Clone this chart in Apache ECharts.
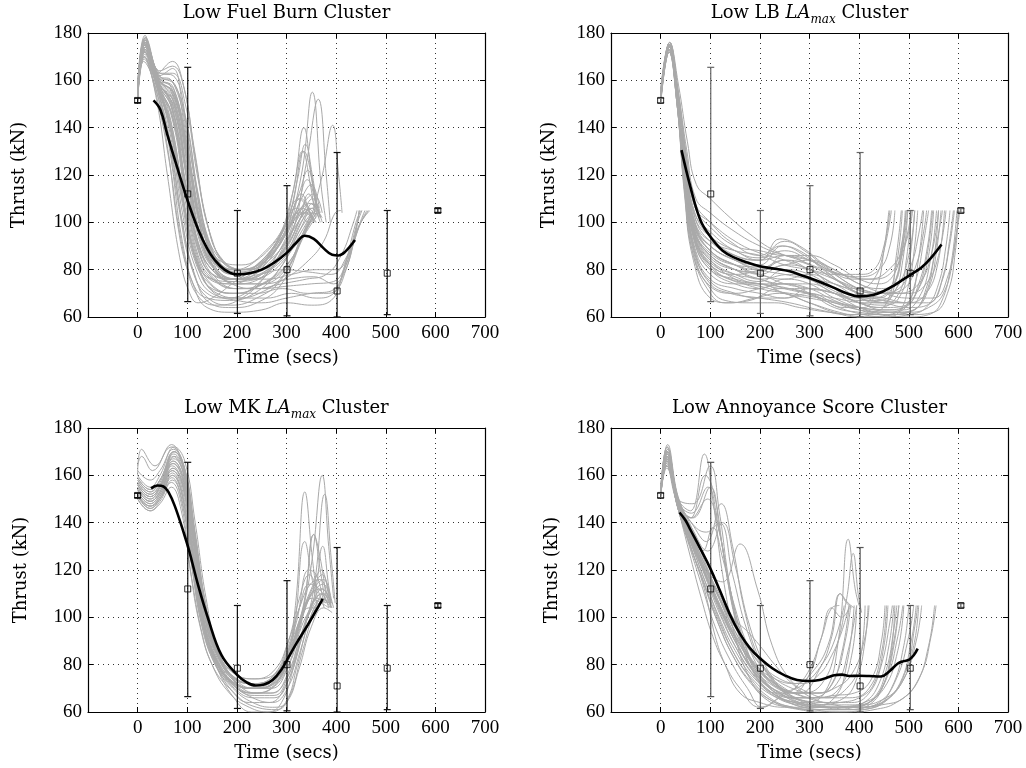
<!DOCTYPE html>
<html>
<head>
<meta charset="utf-8">
<script src="https://cdn.jsdelivr.net/npm/echarts@6/dist/echarts.min.js"></script>
<style>
html,body{margin:0;padding:0;background:#fff;}
#chart{width:1026px;height:768px;}
</style>
</head>
<body>
<div id="chart"></div>
<script>
// ---------- DATA ----------
const xTicks = [-100, 0, 100, 200, 300, 400, 500, 600, 700];
const yTicks = [60, 80, 100, 120, 140, 160, 180];

const titles = [
  '{n|Low Fuel Burn Cluster}',
  '{n|Low LB }{i|LA}{s|max}{n| Cluster}',
  '{n|Low MK }{i|LA}{s|max}{n| Cluster}',
  '{n|Low Annoyance Score Cluster}'
];

// reference statistics (error bars)
const errX    = [0, 101, 201, 301, 402, 503, 605];
const errMean = [151.5, 112, 78.5, 80, 71, 78.5, 105];
const errLow  = [150.6, 66.5, 61.5, 60.5, 60, 61, 104.2];
const errHigh = [152.4, 165.5, 105, 115.5, 129.5, 105, 105.8];

// mean curves (black)
const p1Mean = [[32,151.5],[46,147.5],[60,137],[80,123],[101,109],[122,97],[140,89],[155,84.2],[175,80],[200,78],[225,78.5],[250,80],[275,83],[300,87],[320,91.5],[337,94.3],[355,93],[375,89],[392,86.3],[405,86],[418,87.5],[438,92.5]];
const p2Mean = [[42,130.5],[60,115],[80,101],[100,94],[125,88],[150,85],[175,83],[200,81.4],[230,80.4],[260,79.3],[285,77.5],[300,76.5],[325,74.5],[350,72.3],[375,70],[400,68.7],[428,69.3],[450,71],[470,73.3],[490,76],[505,78],[525,80.8],[545,85],[566,90.6]];
const p3Mean = [[27,154.5],[40,155.7],[52,155.3],[62,153],[75,147],[94,135],[104,128],[122,113.5],[142,99.5],[169,84],[200,75.8],[220,72.5],[238,71.2],[255,71.6],[272,73.5],[290,78],[305,83.5],[320,89],[344,97.2],[360,103],[373,107.8]];
const p4Mean = [[38,144.3],[50,141],[60,137],[80,129],[100,120.7],[120,111],[140,101],[160,93],[180,87],[200,82.7],[225,78.5],[250,75.5],[275,73.5],[300,73.1],[320,73.5],[335,74.5],[350,75.5],[365,75.8],[380,75.2],[400,75.3],[420,75.2],[444,75],[460,77],[478,80.5],[490,81.5],[500,82],[510,84],[518,86.8]];

// individual trajectories (gray)
const p1Curves = [
 [[0,152],[14,176],[35,160],[60,138],[85,104],[110,80],[140,70],[180,68],[230,72],[280,84],[320,99],[345,106]],
 [[0,155],[16,178],[40,160],[65,142],[90,110],[115,86],[145,76],[185,74],[235,78],[285,90],[325,104],[350,104]],
 [[0,153],[12,170],[40,158],[70,145],[95,115],[120,90],[150,78],[190,76],[240,82],[290,95],[325,110],[355,100]],
 [[0,156],[15,175],[45,162],[70,165],[90,150],[115,118],[140,92],[170,80],[210,78],[260,84],[300,98],[330,120],[352,155],[370,115],[380,100]],
 [[0,154],[15,177],[40,161],[68,160],[95,140],[120,105],[145,85],[180,76],[220,76],[270,82],[310,95],[340,125],[364,152],[380,120],[388,100]],
 [[0,152],[13,172],[40,156],[65,135],[90,100],[115,78],[145,66],[190,64],[240,66],[290,74],[330,92],[355,104]],
 [[0,151],[15,174],[40,158],[65,130],[90,92],[115,72],[140,64],[190,62],[250,63],[300,66],[350,65],[390,67],[415,80],[440,100],[450,105]],
 [[0,153],[16,176],[42,160],[70,140],[100,100],[125,80],[155,70],[200,67],[250,66],[300,68],[350,70],[390,71],[420,82],[445,98],[458,105]],
 [[0,154],[14,172],[45,158],[75,148],[105,110],[130,86],[160,76],[200,72],[250,72],[300,73],[350,74],[395,75],[425,86],[450,100],[462,105]],
 [[0,152],[15,175],[40,160],[70,150],[100,118],[125,92],[155,80],[195,76],[245,78],[295,80],[345,79],[390,78],[420,85],[445,98],[465,105]],
 [[0,158],[15,179],[40,163],[70,168],[90,160],[115,130],[140,100],[170,84],[210,80],[255,84],[290,95],[315,115],[335,140],[350,120],[360,105]],
 [[0,155],[15,176],[40,160],[65,158],[95,138],[120,105],[150,84],[190,76],[235,76],[280,86],[320,105],[342,118],[360,108],[372,100]],
 [[0,154],[15,174],[45,158],[75,150],[105,118],[130,92],[160,80],[200,76],[250,78],[300,86],[340,98],[370,118],[393,141],[405,120],[412,104]],
 [[0,151],[12,168],[35,158],[60,132],[80,100],[100,80],[125,68],[160,65],[210,68],[260,78],[300,92],[330,104],[348,106]],
 [[0,153],[15,174],[40,160],[70,150],[100,120],[125,96],[155,84],[195,80],[240,84],[285,94],[320,106],[345,100],[360,102]],
 [[0,156],[16,177],[45,163],[72,162],[100,140],[125,108],[150,88],[185,80],[230,80],[275,90],[310,106],[335,130],[352,118],[362,104]],
 [[0,152],[14,170],[38,152],[60,120],[85,85],[105,70],[122,66],[150,68],[190,74],[240,82],[285,92],[320,104],[340,108]],
 [[0,152],[15,173],[40,158],[65,140],[95,105],[120,82],[150,72],[200,70],[250,74],[300,82],[340,96],[365,104]],
 [[0,155],[15,176],[42,160],[70,155],[100,128],[125,100],[150,85],[190,78],[240,80],[290,92],[330,110],[350,105],[365,103]],
 [[0,152],[15,175],[40,158],[70,138],[100,100],[125,80],[160,70],[210,68],[260,68],[310,70],[360,68],[395,70],[420,80],[438,95],[447,105]],
 [[0,153],[14,172],[42,158],[70,148],[100,112],[128,88],[160,78],[205,74],[255,74],[305,76],[355,77],[395,74],[420,82],[440,98],[452,105]],
 [[0,154],[15,176],[40,160],[66,150],[95,118],[120,92],[150,80],[190,75],[240,76],[290,86],[325,100],[345,112],[360,106],[372,102]],
 [[0,157],[16,178],[45,164],[70,166],[92,158],[118,125],[142,98],[172,84],[215,80],[260,86],[300,100],[322,118],[338,133],[352,120],[362,106]],
 [[0,152],[15,174],[40,158],[65,138],[92,102],[118,80],[150,70],[195,68],[245,70],[295,78],[335,95],[358,105]],
 [[0,151],[13,170],[35,156],[62,128],[88,92],[112,74],[140,68],[185,67],[235,70],[285,80],[325,96],[350,104]],
 [[0,154],[15,175],[45,160],[75,152],[105,125],[130,98],[160,84],[200,79],[250,82],[300,92],[335,108],[355,112],[372,104]],
 [[0,155],[15,177],[40,161],[68,155],[98,128],[122,98],[150,82],[190,74],[240,72],[290,74],[340,76],[380,78],[410,86],[435,100],[442,105]],
 [[0,153],[15,173],[40,158],[70,145],[98,110],[122,86],[152,76],[195,72],[245,72],[295,76],[345,84],[375,92],[398,104],[410,105]],
 [[0,153],[15,174],[40,160],[68,150],[96,118],[120,92],[150,80],[190,76],[240,80],[285,94],[312,112],[332,130],[348,116],[358,102]],
 [[0,152],[15,176],[40,158],[64,142],[90,108],[115,84],[145,74],[185,70],[235,72],[285,80],[330,98],[352,106],[368,100]],
 [[0,156],[15,178],[42,162],[68,160],[96,145],[122,112],[148,90],[180,80],[225,80],[270,88],[312,100],[338,104],[358,100]],
 [[0,151],[14,172],[40,157],[66,140],[95,106],[120,84],[150,76],[195,75],[245,78],[295,86],[335,102],[355,104]],
 [[0,154],[15,175],[42,160],[72,155],[102,125],[128,96],[158,82],[200,78],[250,80],[300,90],[335,104],[355,106]],
 [[0,153],[14,173],[40,159],[70,152],[100,122],[126,94],[156,80],[198,74],[248,74],[298,80],[338,96],[360,104]],
 [[0,155],[16,177],[44,162],[74,158],[104,132],[130,102],[160,86],[204,80],[254,84],[300,96],[330,110],[350,116],[366,106]],
 [[0,152],[15,172],[40,158],[68,146],[98,114],[124,88],[155,76],[200,72],[252,74],[302,82],[340,98],[362,104]],
 [[0,156],[15,176],[44,161],[73,156],[103,128],[130,100],[162,84],[205,78],[255,80],[300,88],[335,102],[352,108],[368,102]],
 [[0,153],[15,174],[40,159],[69,148],[100,118],[127,92],[158,80],[205,76],[260,76],[310,78],[360,80],[400,80],[428,88],[450,100],[468,105]],
 [[0,155],[15,176],[42,161],[72,157],[100,130],[125,102],[155,86],[195,80],[245,82],[290,92],[325,104],[348,108],[365,102]],
 [[0,152],[14,171],[40,157],[68,145],[96,112],[122,88],[152,78],[198,76],[250,80],[298,92],[332,106],[350,104]],
 [[0,154],[15,174],[43,160],[74,154],[104,124],[132,96],[164,84],[210,82],[258,88],[300,100],[325,112],[343,122],[358,110],[368,102]],
 [[0,153],[15,173],[40,158],[67,142],[94,108],[118,86],[148,74],[192,70],[240,70],[292,72],[342,70],[385,70],[415,78],[438,94],[446,105]],
 [[0,156],[16,178],[44,163],[70,163],[96,150],[122,118],[148,94],[180,82],[222,80],[268,86],[305,98],[330,112],[348,104],[360,100]],
 [[0,152],[14,172],[40,157],[66,140],[95,110],[120,86],[150,76],[195,74],[245,76],[295,84],[330,96],[352,104]],
 [[0,154],[15,175],[42,160],[71,152],[101,120],[127,94],[157,82],[203,78],[253,80],[300,90],[333,104],[353,110],[368,104]],
 [[0,151],[13,169],[38,155],[64,134],[90,100],[114,78],[142,68],[188,65],[240,68],[290,76],[330,94],[350,104]]
];

const p2Curves = [
 [[0,152],[18,175],[34,153],[50,120],[68,95],[100,82],[140,76],[200,74],[260,72],[320,68],[370,64],[410,64],[435,72],[450,88],[460,105]],
 [[0,153],[18,174],[34,154],[50,124],[68,100],[100,88],[150,82],[200,80],[250,84],[300,80],[350,74],[400,72],[430,76],[450,88],[465,105]],
 [[0,151],[17,172],[34,150],[50,115],[68,88],[100,74],[140,70],[200,68],[260,66],[320,63],[380,61],[430,62],[460,68],[475,86],[485,105]],
 [[0,155],[18,176],[34,155],[50,126],[68,104],[100,96],[150,88],[200,85],[250,88],[300,84],[350,79],[400,77],[440,80],[462,90],[472,105]],
 [[0,152],[18,174],[34,152],[50,120],[68,96],[100,86],[150,80],[200,76],[260,78],[310,75],[360,70],[410,66],[450,66],[475,76],[490,92],[498,105]],
 [[0,154],[18,175],[34,156],[52,128],[70,108],[100,100],[140,92],[200,86],[250,92],[290,88],[340,80],[390,76],[430,76],[470,80],[495,92],[508,105]],
 [[0,156],[18,176],[36,158],[54,134],[72,116],[100,110],[140,102],[180,95],[230,88],[280,84],[330,80],[380,77],[420,76],[460,80],[490,90],[505,105]],
 [[0,151],[17,173],[33,150],[48,112],[66,84],[100,68],[140,66],[190,68],[240,70],[300,66],[360,62],[410,60],[460,61],[500,66],[520,85],[530,105]],
 [[0,152],[18,174],[34,152],[50,118],[68,92],[100,80],[150,74],[200,72],[250,76],[300,74],[350,68],[400,64],[450,62],[490,64],[515,76],[530,92],[540,105]],
 [[0,153],[18,175],[34,154],[50,122],[68,98],[100,90],[150,84],[200,82],[245,90],[290,86],[340,78],[390,72],[440,70],[480,72],[505,82],[520,95],[528,105]],
 [[0,150],[17,172],[33,150],[48,114],[66,86],[100,72],[130,67],[180,66],[230,66],[280,64],[340,62],[400,61],[460,61],[510,63],[540,72],[556,88],[565,105]],
 [[0,154],[18,175],[34,155],[51,125],[69,102],[100,92],[150,86],[200,84],[240,93],[280,90],[330,82],[380,74],[430,70],[480,70],[520,74],[545,86],[560,105]],
 [[0,152],[18,174],[34,152],[50,119],[68,94],[100,84],[150,78],[200,75],[250,80],[300,78],[350,72],[400,68],[450,66],[500,64],[545,66],[570,78],[582,92],[590,105]],
 [[0,155],[18,176],[35,156],[53,130],[71,110],[100,104],[150,96],[200,90],[250,86],[300,84],[350,80],[400,74],[450,70],[500,68],[550,68],[580,78],[595,94],[603,105]],
 [[0,151],[17,172],[34,151],[50,116],[68,89],[100,76],[150,72],[200,70],[250,68],[300,70],[350,66],[400,63],[450,62],[500,62],[540,64],[570,70],[590,86],[600,105]],
 [[0,153],[18,175],[34,153],[50,121],[68,97],[100,86],[150,80],[200,78],[250,74],[300,72],[350,70],[400,66],[440,64],[480,70],[495,84],[505,105]],
 [[0,152],[18,174],[34,152],[50,118],[68,93],[100,82],[150,78],[200,80],[250,84],[300,82],[350,76],[400,70],[450,66],[490,66],[520,72],[540,86],[550,105]],
 [[0,154],[18,175],[34,155],[51,124],[69,100],[100,90],[150,84],[200,80],[250,78],[300,76],[350,74],[400,70],[450,68],[500,66],[540,66],[565,74],[582,90],[592,105]],
 [[0,151],[17,173],[33,150],[48,114],[66,86],[100,70],[130,66],[180,67],[240,72],[300,70],[360,64],[410,61],[450,60],[480,62],[500,74],[512,90],[518,105]],
 [[0,153],[18,175],[34,154],[51,123],[69,100],[100,92],[150,88],[200,86],[250,82],[300,80],[350,78],[400,78],[430,80],[450,90],[462,105]],
 [[0,152],[18,174],[34,152],[50,119],[68,95],[100,84],[150,76],[200,72],[260,70],[320,68],[380,65],[430,63],[470,62],[510,63],[535,72],[555,90],[568,105]],
 [[0,155],[18,176],[35,156],[52,128],[70,106],[100,98],[150,90],[200,88],[250,86],[300,86],[350,82],[400,76],[440,74],[470,78],[485,90],[495,105]],
 [[0,152],[18,174],[34,153],[50,120],[68,96],[100,86],[150,80],[200,76],[250,74],[300,74],[350,70],[400,64],[450,61],[500,60],[540,61],[565,66],[585,82],[597,105]],
 [[0,153],[18,175],[34,154],[50,122],[68,98],[100,88],[150,82],[200,78],[250,76],[300,78],[350,74],[400,68],[440,66],[470,70],[488,84],[498,105]],
 [[0,151],[17,173],[34,151],[50,116],[68,90],[100,78],[150,74],[200,74],[250,70],[300,68],[350,66],[400,64],[450,63],[490,64],[515,70],[535,84],[548,105]],
 [[0,154],[18,175],[34,155],[51,126],[69,104],[100,94],[150,86],[200,84],[240,90],[280,88],[330,80],[380,72],[420,68],[455,70],[475,82],[487,105]],
 [[0,152],[18,174],[34,152],[50,118],[68,93],[100,81],[150,75],[200,73],[250,70],[300,66],[350,62],[400,60],[450,60],[500,61],[535,64],[560,74],[575,90],[583,105]],
 [[0,153],[18,175],[34,153],[50,121],[68,97],[100,87],[150,82],[200,81],[250,80],[300,76],[350,70],[400,67],[440,67],[475,72],[500,86],[512,105]],
 [[0,150],[17,172],[33,150],[49,116],[67,88],[100,75],[150,70],[200,68],[250,68],[300,72],[350,70],[400,66],[450,63],[490,63],[520,68],[542,82],[556,105]],
 [[0,154],[18,176],[35,155],[52,127],[70,106],[100,100],[150,92],[200,87],[250,84],[300,80],[350,76],[400,72],[450,70],[500,70],[535,74],[560,86],[575,105]],
 [[0,152],[18,174],[34,152],[50,119],[68,94],[100,83],[150,78],[200,76],[250,72],[300,70],[350,68],[400,66],[450,65],[480,68],[500,82],[512,105]],
 [[0,153],[18,175],[34,154],[51,122],[69,99],[100,90],[150,84],[200,80],[250,82],[300,84],[350,80],[400,74],[440,72],[470,74],[485,86],[495,105]],
 [[0,153],[18,175],[34,154],[50,123],[68,99],[100,88],[150,82],[200,78],[250,82],[300,80],[350,72],[400,66],[450,64],[495,65],[520,74],[538,90],[546,105]],
 [[0,152],[18,174],[34,152],[50,118],[68,92],[100,80],[150,76],[200,74],[250,72],[300,72],[350,70],[400,68],[440,68],[470,74],[486,90],[493,105]],
 [[0,154],[18,175],[34,155],[51,125],[69,102],[100,94],[150,88],[200,84],[250,86],[300,82],[350,76],[400,70],[450,67],[500,66],[535,70],[558,82],[572,105]],
 [[0,151],[17,173],[33,150],[49,115],[67,87],[100,73],[150,70],[200,72],[250,74],[300,70],[350,64],[400,62],[450,61],[500,62],[530,68],[550,84],[560,105]],
 [[0,153],[18,175],[34,153],[50,121],[68,96],[100,85],[150,80],[200,79],[250,86],[300,84],[350,78],[400,72],[450,70],[490,72],[515,82],[530,96],[536,105]],
 [[0,152],[18,174],[34,152],[50,119],[68,94],[100,82],[150,77],[200,74],[250,74],[300,72],[350,67],[400,63],[450,61],[500,61],[550,62],[578,70],[594,88],[600,105]]
];

const p3Curves = [
 [[0,160],[8,171],[35,164],[68,173],[90,165],[110,140],[130,112],[150,92],[180,78],[220,70],[260,70],[290,76],[315,90],[335,105],[352,125],[372,160],[385,130],[395,108]],
 [[0,155],[25,150],[45,155],[75,170],[95,160],[115,128],[135,100],[160,84],[195,74],[235,70],[270,72],[300,82],[318,105],[337,153],[352,125],[362,108]],
 [[0,152],[25,146],[45,150],[70,158],[90,148],[110,120],[130,96],[155,82],[190,72],[230,68],[270,70],[300,78],[325,94],[350,108],[370,106]],
 [[0,158],[25,153],[45,158],[75,168],[95,158],[115,130],[138,100],[165,82],[200,72],[240,68],[280,72],[310,86],[335,105],[355,135],[368,125],[380,108]],
 [[0,150],[25,145],[45,148],[68,155],[88,145],[108,118],[128,95],[150,80],[185,70],[225,64],[265,64],[300,72],[325,88],[350,104],[370,110],[385,104]],
 [[0,162],[25,158],[45,162],[72,171],[92,165],[112,140],[132,110],[155,88],[185,76],[225,70],[265,72],[295,82],[320,98],[345,120],[360,118],[375,106]],
 [[0,154],[25,149],[45,153],[70,164],[92,155],[112,125],[135,96],[160,80],[195,70],[235,66],[275,66],[305,74],[330,92],[355,112],[377,152],[390,125],[398,106]],
 [[0,156],[25,151],[45,155],[72,166],[93,158],[114,130],[136,100],[162,82],[198,72],[240,70],[280,74],[310,88],[337,132],[350,118],[362,104]],
 [[0,151],[25,147],[45,150],[70,160],[90,152],[110,122],[132,96],[158,80],[195,68],[240,62],[280,61],[305,66],[330,84],[355,102],[375,110],[390,104]],
 [[0,159],[25,154],[45,158],[74,170],[95,163],[116,136],[138,104],[163,84],[200,74],[240,72],[280,76],[310,90],[335,106],[355,135],[368,120],[378,106]],
 [[0,153],[25,148],[45,152],[70,162],[90,154],[110,126],[130,100],[155,84],[190,74],[230,70],[270,70],[305,80],[330,96],[355,108],[373,130],[386,112],[395,104]],
 [[0,157],[25,152],[45,156],[73,167],[94,160],[115,132],[137,102],[162,84],[198,74],[238,72],[278,74],[308,84],[332,100],[355,112],[375,116],[390,106]],
 [[0,152],[25,147],[45,151],[70,161],[90,152],[110,122],[132,96],[156,80],[192,70],[232,64],[272,62],[300,64],[325,78],[350,96],[375,104],[392,102]],
 [[0,160],[25,155],[45,160],[74,172],[95,166],[116,140],[138,108],[162,86],[198,74],[238,72],[278,76],[305,86],[330,100],[352,112],[372,118],[388,106]],
 [[0,155],[25,150],[45,154],[71,165],[92,157],[112,128],[134,98],[158,82],[194,72],[234,70],[274,72],[302,82],[326,98],[350,110],[372,112],[390,105]],
 [[0,150],[25,145],[45,149],[68,157],[88,148],[106,120],[126,96],[150,80],[185,68],[225,62],[265,60],[298,64],[322,80],[345,98],[368,106],[385,104]],
 [[0,156],[25,151],[45,155],[72,166],[93,158],[113,128],[134,98],[158,82],[194,72],[234,68],[272,68],[302,76],[328,92],[352,106],[372,112],[390,106]],
 [[0,153],[25,148],[45,152],[70,162],[91,155],[111,126],[132,98],[157,82],[193,72],[233,70],[273,72],[300,80],[322,94],[345,104],[365,104]],
 [[0,158],[25,153],[45,157],[73,169],[94,162],[115,134],[136,104],[160,86],[196,76],[236,74],[276,76],[304,88],[326,104],[346,114],[366,112],[382,106]],
 [[0,151],[25,146],[45,150],[69,159],[89,150],[108,124],[128,98],[152,82],[188,72],[228,68],[268,68],[300,74],[326,90],[352,104],[372,108],[388,104]],
 [[0,164],[8,168],[30,162],[68,172],[90,166],[112,140],[134,108],[158,86],[194,74],[234,72],[274,74],[304,84],[328,100],[350,112],[370,120],[385,108]],
 [[0,154],[25,149],[45,153],[71,163],[92,155],[112,126],[134,98],[158,80],[194,66],[230,60],[262,60],[290,64],[316,80],[340,98],[362,108],[380,106]],
 [[0,157],[25,152],[45,156],[72,168],[93,160],[114,132],[136,102],[160,84],[196,74],[236,72],[276,76],[304,90],[326,108],[346,118],[362,112],[376,104]],
 [[0,152],[25,147],[45,151],[70,160],[90,151],[110,124],[131,98],[156,82],[192,72],[232,66],[272,64],[302,70],[328,86],[352,102],[374,108],[392,104]],
 [[0,156],[25,151],[45,155],[72,165],[93,157],[113,130],[135,100],[160,82],[196,72],[236,70],[276,72],[304,82],[328,98],[352,110],[374,114],[390,106]],
 [[0,154],[25,149],[45,153],[71,163],[92,156],[112,127],[134,99],[159,82],[195,71],[235,67],[275,67],[303,75],[329,90],[353,106],[374,110],[390,104]],
 [[0,159],[25,154],[45,158],[73,170],[94,163],[115,136],[137,106],[161,86],[197,76],[237,74],[277,78],[304,90],[326,104],[348,114],[368,116],[384,106]]
];

const p4Curves = [
 [[0,152],[12,170],[35,150],[60,145],[88,169],[105,150],[125,118],[150,92],[180,74],[215,65],[260,62],[320,61],[380,61],[420,63],[450,72],[470,90],[480,105]],
 [[0,153],[13,168],[35,150],[65,148],[100,164],[118,145],[138,115],[162,90],[195,74],[235,66],[280,63],[330,62],[380,62],[420,64],[455,74],[478,92],[488,105]],
 [[0,151],[12,164],[35,148],[65,142],[100,155],[120,135],[145,105],[175,84],[210,72],[255,66],[300,63],[350,62],[400,62],[445,64],[482,72],[505,90],[515,105]],
 [[0,152],[14,166],[35,149],[62,140],[92,132],[122,148],[145,130],[170,102],[200,82],[240,70],[290,64],[340,62],[390,61],[430,62],[465,70],[490,88],[500,105]],
 [[0,154],[13,172],[35,150],[55,138],[80,125],[110,112],[150,96],[185,80],[220,70],[260,64],[310,61],[360,60],[410,61],[450,64],[490,74],[515,90],[526,105]],
 [[0,152],[12,168],[35,147],[60,132],[90,118],[120,104],[150,90],[185,78],[225,70],[270,66],[320,66],[360,70],[385,84],[395,105]],
 [[0,153],[14,170],[35,149],[60,134],[90,120],[125,115],[160,131],[195,112],[225,88],[260,74],[300,68],[340,66],[380,66],[420,70],[445,85],[455,105]],
 [[0,151],[12,165],[35,146],[58,130],[85,112],[110,96],[140,82],[175,70],[205,62],[250,68],[290,72],[325,80],[350,90],[370,105]],
 [[0,152],[13,169],[35,148],[60,134],[90,118],[120,103],[155,88],[195,75],[240,68],[285,64],[330,68],[358,90],[378,133],[392,112],[400,105]],
 [[0,153],[14,171],[35,150],[62,137],[92,122],[122,106],[155,90],[195,78],[240,70],[285,68],[325,72],[355,88],[375,108],[388,127],[398,110],[405,102]],
 [[0,152],[12,166],[35,147],[60,132],[88,116],[118,100],[150,86],[190,74],[235,68],[280,68],[320,78],[345,92],[362,110],[375,106],[385,104]],
 [[0,151],[12,163],[35,146],[57,128],[82,108],[105,92],[130,80],[160,70],[200,62],[240,66],[270,70],[300,78],[325,92],[345,104],[360,105]],
 [[0,154],[13,172],[35,150],[60,142],[90,160],[108,152],[128,125],[155,95],[185,78],[225,68],[270,64],[320,62],[370,62],[410,64],[440,72],[460,88],[470,105]],
 [[0,152],[12,167],[35,148],[62,138],[95,128],[125,140],[150,122],[180,96],[215,78],[255,68],[300,64],[350,62],[400,62],[440,64],[475,74],[500,92],[510,105]],
 [[0,153],[14,170],[35,149],[60,135],[88,120],[115,106],[145,92],[180,80],[220,72],[265,68],[300,76],[322,90],[345,104],[365,100],[380,104]],
 [[0,152],[12,165],[35,146],[60,130],[88,114],[115,98],[145,84],[185,72],[230,64],[280,61],[330,60],[380,60],[430,61],[475,64],[515,72],[540,88],[552,105]],
 [[0,151],[12,164],[35,147],[60,133],[90,117],[120,101],[155,86],[195,74],[240,66],[290,62],[340,61],[390,62],[430,66],[455,78],[470,95],[476,105]],
 [[0,153],[13,169],[35,150],[62,140],[92,136],[118,140],[145,118],[175,94],[210,78],[250,70],[295,66],[340,64],[385,64],[420,68],[445,80],[462,98],[467,105]],
 [[0,152],[12,168],[35,148],[60,136],[90,122],[120,108],[155,94],[195,82],[240,74],[285,72],[320,76],[345,84],[365,94],[380,105]],
 [[0,154],[14,173],[35,151],[58,140],[84,128],[112,115],[145,100],[180,86],[220,76],[265,70],[310,68],[350,70],[385,76],[410,90],[420,105]],
 [[0,152],[12,166],[35,147],[60,132],[90,115],[120,98],[150,84],[185,74],[225,67],[270,64],[315,63],[360,64],[400,66],[430,72],[450,88],[458,105]],
 [[0,151],[12,164],[35,146],[58,131],[85,116],[112,101],[142,87],[178,75],[220,66],[265,62],[310,61],[360,62],[410,64],[450,70],[478,86],[490,105]],
 [[0,153],[13,168],[35,149],[62,144],[95,155],[115,140],[140,112],[168,90],[200,76],[240,68],[285,65],[330,64],[370,66],[395,74],[412,90],[418,105]],
 [[0,152],[12,167],[35,148],[60,134],[90,118],[120,104],[155,90],[190,80],[230,74],[270,72],[310,78],[340,90],[362,110],[378,106],[390,104]],
 [[0,152],[13,169],[35,149],[60,136],[90,122],[118,110],[145,100],[175,94],[200,88],[230,80],[265,72],[305,66],[350,63],[400,62],[445,63],[490,66],[525,76],[545,92],[555,105]],
 [[0,153],[12,166],[35,148],[60,134],[90,118],[120,104],[150,92],[185,86],[205,80],[240,70],[280,64],[330,62],[380,62],[420,64],[450,72],[470,88],[480,105]],
 [[0,151],[12,164],[35,146],[60,130],[88,112],[110,92],[130,80],[160,68],[200,64],[250,62],[300,62],[350,66],[375,80],[390,105]],
 [[0,152],[12,167],[35,148],[60,135],[90,120],[120,105],[150,91],[185,78],[220,70],[260,66],[300,66],[340,70],[365,85],[380,105]],
 [[0,154],[14,170],[35,150],[60,138],[85,128],[105,138],[125,125],[150,104],[180,86],[215,74],[255,68],[300,64],[350,63],[400,63],[445,65],[485,72],[510,88],[520,105]],
 [[0,152],[12,166],[35,147],[60,133],[90,118],[120,102],[150,88],[185,76],[225,68],[270,64],[315,62],[360,62],[405,63],[440,68],[462,82],[472,105]],
 [[0,153],[13,168],[35,149],[61,136],[91,121],[121,107],[153,93],[190,80],[230,72],[275,68],[320,68],[350,74],[372,90],[383,105]],
 [[0,151],[12,164],[35,146],[59,131],[87,114],[115,98],[145,84],[182,72],[222,65],[268,62],[315,61],[365,61],[415,62],[460,66],[495,78],[512,96],[518,105]],
 [[0,152],[13,167],[35,148],[61,135],[91,120],[122,106],[155,92],[192,80],[232,72],[276,68],[320,68],[355,72],[378,86],[395,105]],
 [[0,154],[14,171],[35,151],[62,142],[94,150],[116,138],[142,110],[170,88],[205,74],[245,68],[290,66],[335,66],[375,70],[400,80],[412,105]],
 [[0,152],[12,166],[35,148],[60,134],[90,119],[120,105],[152,92],[188,80],[228,72],[270,68],[310,66],[350,67],[390,68],[425,74],[445,90],[452,105]]
];

// ---------- LAYOUT / STYLE ----------
const grids = [
  {left: 88, top: 33, width: 397, height: 284},
  {left: 611, top: 33, width: 397, height: 284},
  {left: 88, top: 428, width: 397, height: 284},
  {left: 611, top: 428, width: 397, height: 284}
];
const panels = [
  {curves: p1Curves, mean: p1Mean, errColor: '#111', yNameGap: 60},
  {curves: p2Curves, mean: p2Mean, errColor: '#666', yNameGap: 53},
  {curves: p3Curves, mean: p3Mean, errColor: '#111', yNameGap: 58},
  {curves: p4Curves, mean: p4Mean, errColor: '#555', yNameGap: 50}
];
const NAME_FONT = 'DejaVu Serif';
const TICK_FONT = 'Liberation Serif';
const GRAY = '#a9a9a9';

const xAxes = [], yAxes = [], series = [], titleOpts = [];
grids.forEach((g, i) => {
  const p = panels[i];
  const axisLine = {onZero: false, lineStyle: {color: '#000', width: 1.2}};
  const tick = {inside: true, length: 5, lineStyle: {color: '#000', width: 1}};
  const split = {show: true, lineStyle: {color: '#333', width: 1, type: [1, 4]}};
  xAxes.push({
    gridIndex: i, type: 'value', position: 'bottom',
    min: xTicks[0], max: xTicks[xTicks.length - 1], interval: 100,
    axisLine, axisTick: tick, splitLine: split,
    axisLabel: {formatter: v => (v < 0 ? '' : String(v)), fontFamily: TICK_FONT, fontSize: 19, color: '#000', margin: 7},
    name: 'Time (secs)', nameLocation: 'middle', nameGap: 32,
    nameTextStyle: {fontFamily: NAME_FONT, fontSize: 18, color: '#000'}
  });
  xAxes.push({
    gridIndex: i, type: 'value', position: 'top',
    min: xTicks[0], max: xTicks[xTicks.length - 1], interval: 100,
    axisLine, axisTick: tick, splitLine: {show: false}, axisLabel: {show: false}
  });
  yAxes.push({
    gridIndex: i, type: 'value', position: 'left',
    min: yTicks[0], max: yTicks[yTicks.length - 1], interval: 20,
    axisLine, axisTick: tick, splitLine: split,
    axisLabel: {fontFamily: TICK_FONT, fontSize: 19, color: '#000', margin: 6},
    name: 'Thrust (kN)', nameLocation: 'middle', nameGap: p.yNameGap, nameRotate: 90,
    nameTextStyle: {fontFamily: NAME_FONT, fontSize: 18, color: '#000'}
  });
  yAxes.push({
    gridIndex: i, type: 'value', position: 'right',
    min: yTicks[0], max: yTicks[yTicks.length - 1], interval: 20,
    axisLine, axisTick: tick, splitLine: {show: false}, axisLabel: {show: false}
  });

  titleOpts.push({
    text: titles[i], padding: 0,
    left: g.left + g.width / 2, top: g.top - 33, textAlign: 'center',
    textStyle: {
      fontWeight: 'normal',
      rich: {
        n: {fontFamily: NAME_FONT, fontSize: 18, fontWeight: 'normal', color: '#000', lineHeight: 26},
        i: {fontFamily: NAME_FONT, fontSize: 18, fontWeight: 'normal', fontStyle: 'italic', color: '#000', lineHeight: 26},
        s: {fontFamily: NAME_FONT, fontSize: 12, fontWeight: 'normal', fontStyle: 'italic', color: '#000', lineHeight: 12, verticalAlign: 'bottom'}
      }
    }
  });

  const xi = 2 * i, yi = 2 * i;
  p.curves.forEach(c => {
    series.push({
      type: 'line', xAxisIndex: xi, yAxisIndex: yi, data: c,
      smooth: 0.45, symbol: 'none', silent: true, z: 2,
      lineStyle: {color: GRAY, width: 1}
    });
  });
  series.push({
    type: 'custom', xAxisIndex: xi, yAxisIndex: yi, z: 3, silent: true,
    data: errX.map((x, k) => [x, errLow[k], errHigh[k]]),
    encode: {x: 0, y: [1, 2]},
    renderItem: (params, api) => {
      const x = api.value(0);
      const lo = api.coord([x, api.value(1)]);
      const hi = api.coord([x, api.value(2)]);
      const hw = 3.5;
      const st = {stroke: p.errColor, lineWidth: 1.2};
      return {type: 'group', children: [
        {type: 'line', shape: {x1: lo[0], y1: lo[1], x2: hi[0], y2: hi[1]}, style: st},
        {type: 'line', shape: {x1: lo[0] - hw, y1: lo[1], x2: lo[0] + hw, y2: lo[1]}, style: st},
        {type: 'line', shape: {x1: hi[0] - hw, y1: hi[1], x2: hi[0] + hw, y2: hi[1]}, style: st}
      ]};
    }
  });
  series.push({
    type: 'scatter', xAxisIndex: xi, yAxisIndex: yi, z: 4, silent: true,
    data: errX.map((x, k) => [x, errMean[k]]),
    symbol: 'rect', symbolSize: 6,
    itemStyle: {color: 'rgba(255,255,255,0)', borderColor: '#000', borderWidth: 1}
  });
  series.push({
    type: 'line', xAxisIndex: xi, yAxisIndex: yi, data: p.mean,
    smooth: 0.4, symbol: 'none', silent: true, z: 5,
    lineStyle: {color: '#000', width: 2.6}
  });
});

const chart = echarts.init(document.getElementById('chart'), null, {renderer: 'canvas'});
chart.setOption({
  animation: false,
  backgroundColor: '#fff',
  title: titleOpts,
  grid: grids,
  xAxis: xAxes,
  yAxis: yAxes,
  series: series
});
</script>
</body>
</html>
